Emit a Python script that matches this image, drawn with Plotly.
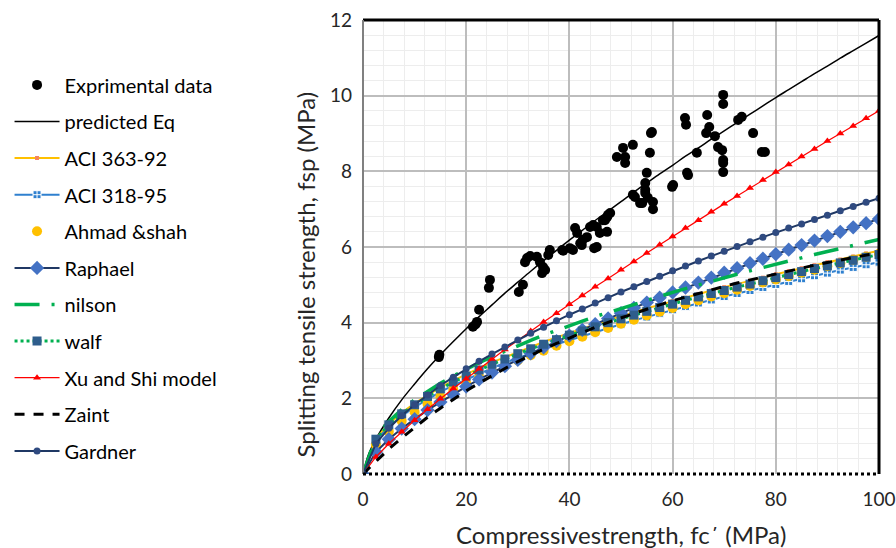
import plotly.graph_objects as go

# ---------------- data ----------------
exp_fc = [14.7, 14.8, 21.3, 22.1, 22.5, 21.8, 24.4, 24.6, 30.2, 31.0,
          31.4, 31.8, 32.4, 33.7, 34.3, 34.9, 35.3, 35.9, 36.2, 34.7,
          38.6, 40.1, 40.7, 41.1, 41.5, 42.1, 42.6, 43.4, 44.0, 44.6,
          45.3, 45.3, 45.9, 46.5, 47.3, 47.5, 47.3, 44.8, 47.9, 46.9,
          49.2, 50.4, 50.8, 52.3, 50.8, 52.3, 53.7, 52.7, 54.1, 54.7,
          54.7, 54.7, 55.0, 55.2, 55.6, 55.8, 56.0, 56.2, 56.2, 59.9,
          60.1, 62.4, 62.6, 62.8, 63.0, 64.7, 66.7, 67.1, 66.5, 68.2,
          68.8, 69.6, 69.8, 69.8, 69.8, 69.8, 69.8, 72.7, 73.4, 75.6,
          77.3, 77.9, 42.4, 38.8]
exp_fsp = [3.09, 3.15, 3.89, 4.02, 4.34, 3.95, 4.92, 5.13, 4.81, 5.00,
           5.60, 5.71, 5.76, 5.74, 5.60, 5.47, 5.39, 5.79, 5.92, 5.31,
           5.92, 5.97, 5.92, 6.50, 6.37, 6.10, 6.19, 6.26, 6.53, 6.58,
           6.53, 6.00, 6.37, 6.71, 6.79, 6.85, 6.40, 5.97, 6.90, 6.71,
           8.38, 8.62, 8.22, 8.70, 8.38, 7.38, 7.16, 7.32, 7.16, 7.69,
           7.43, 7.51, 7.96, 7.30, 8.49, 9.01, 9.04, 7.19, 7.00, 7.59,
           7.64, 9.41, 9.23, 7.96, 7.90, 8.49, 9.49, 9.17, 9.01, 8.93,
           8.64, 8.56, 10.02, 9.78, 8.30, 8.22, 7.98, 9.36, 9.44, 9.01,
           8.51, 8.51, 6.05, 5.90]

pred_fc = [0, 1, 2.5, 5, 7.5, 10, 12.5, 15, 17.5, 20, 22.5, 25, 27.5, 30, 32.5, 35,
           37.5, 40, 42.5, 45, 47.5, 50, 52.5, 55, 57.5, 60, 62.5, 65, 67.5, 70,
           72.5, 75, 77.5, 80, 82.5, 85, 87.5, 90, 92.5, 95, 97.5, 100]
pred_fsp = [0, 0.49, 0.92, 1.48, 1.96, 2.38, 2.78, 3.15, 3.50, 3.84, 4.16, 4.47, 4.78,
            5.07, 5.36, 5.64, 5.91, 6.18, 6.44, 6.70, 6.95, 7.20, 7.45, 7.69, 7.93,
            8.16, 8.40, 8.62, 8.85, 9.07, 9.29, 9.51, 9.73, 9.95, 10.16, 10.37,
            10.58, 10.78, 10.99, 11.19, 11.39, 11.59]

fc = [0, 2.5, 5, 7.5, 10, 12.5, 15, 17.5, 20, 22.5, 25, 27.5, 30, 32.5, 35, 37.5,
      40, 42.5, 45, 47.5, 50, 52.5, 55, 57.5, 60, 62.5, 65, 67.5, 70, 72.5, 75,
      77.5, 80, 82.5, 85, 87.5, 90, 92.5, 95, 97.5, 100]

aci363 = [0, 0.93, 1.32, 1.62, 1.87, 2.09, 2.29, 2.47, 2.64, 2.80, 2.95, 3.09, 3.23,
          3.36, 3.49, 3.61, 3.73, 3.85, 3.96, 4.07, 4.17, 4.28, 4.38, 4.47, 4.57,
          4.66, 4.76, 4.85, 4.94, 5.02, 5.11, 5.19, 5.28, 5.36, 5.44, 5.52, 5.60,
          5.67, 5.75, 5.83, 5.90]
aci318 = [0, 0.89, 1.25, 1.53, 1.77, 1.98, 2.17, 2.34, 2.50, 2.66, 2.80, 2.94, 3.07,
          3.19, 3.31, 3.43, 3.54, 3.65, 3.76, 3.86, 3.96, 4.06, 4.15, 4.25, 4.34,
          4.43, 4.52, 4.60, 4.69, 4.77, 4.85, 4.93, 5.01, 5.09, 5.16, 5.24, 5.31,
          5.39, 5.46, 5.53, 5.60]
ahmad = [0, 0.77, 1.12, 1.40, 1.64, 1.85, 2.05, 2.23, 2.40, 2.56, 2.71, 2.86, 3.00,
         3.14, 3.26, 3.39, 3.51, 3.63, 3.75, 3.86, 3.97, 4.08, 4.19, 4.29, 4.39,
         4.49, 4.59, 4.69, 4.78, 4.87, 4.97, 5.06, 5.14, 5.23, 5.32, 5.40, 5.49,
         5.57, 5.66, 5.74, 5.82]
raphael = [0, 0.58, 0.92, 1.20, 1.45, 1.69, 1.90, 2.11, 2.31, 2.50, 2.68, 2.85, 3.02,
           3.19, 3.35, 3.51, 3.66, 3.81, 3.96, 4.11, 4.25, 4.39, 4.53, 4.66, 4.80,
           4.93, 5.06, 5.19, 5.32, 5.44, 5.57, 5.69, 5.81, 5.93, 6.05, 6.17, 6.29,
           6.40, 6.52, 6.63, 6.74]
nilson = [0, 0.98, 1.39, 1.70, 1.96, 2.19, 2.40, 2.59, 2.77, 2.94, 3.10, 3.25, 3.40,
          3.53, 3.67, 3.80, 3.92, 4.04, 4.16, 4.27, 4.38, 4.49, 4.60, 4.70, 4.80,
          4.90, 5.00, 5.09, 5.19, 5.28, 5.37, 5.46, 5.55, 5.63, 5.72, 5.80, 5.88,
          5.96, 6.04, 6.12, 6.20]
walf = [0, 0.92, 1.30, 1.59, 1.83, 2.05, 2.25, 2.43, 2.59, 2.75, 2.90, 3.04, 3.18,
        3.31, 3.43, 3.55, 3.67, 3.78, 3.89, 4.00, 4.10, 4.20, 4.30, 4.40, 4.49,
        4.59, 4.68, 4.77, 4.85, 4.94, 5.02, 5.11, 5.19, 5.27, 5.35, 5.43, 5.50,
        5.58, 5.65, 5.73, 5.80]
xushi = [0, 0.45, 0.80, 1.12, 1.42, 1.71, 1.99, 2.26, 2.52, 2.78, 3.04, 3.29, 3.53,
         3.78, 4.02, 4.25, 4.49, 4.72, 4.95, 5.17, 5.40, 5.62, 5.84, 6.06, 6.28,
         6.50, 6.71, 6.93, 7.14, 7.35, 7.56, 7.77, 7.98, 8.18, 8.39, 8.59, 8.80,
         9.00, 9.20, 9.40, 9.60]
zaint = [0, 0.34, 0.66, 0.95, 1.23, 1.50, 1.74, 1.98, 2.20, 2.40, 2.60, 2.79, 2.97,
         3.14, 3.30, 3.45, 3.60, 3.74, 3.88, 4.01, 4.13, 4.25, 4.36, 4.47, 4.58,
         4.68, 4.78, 4.87, 4.96, 5.05, 5.13, 5.22, 5.30, 5.37, 5.45, 5.52, 5.59,
         5.65, 5.72, 5.78, 5.85]
gardner = [0, 0.80, 1.21, 1.54, 1.83, 2.09, 2.34, 2.56, 2.78, 2.98, 3.17, 3.36, 3.54,
           3.72, 3.88, 4.05, 4.21, 4.36, 4.52, 4.66, 4.81, 4.95, 5.09, 5.23, 5.37,
           5.50, 5.63, 5.76, 5.89, 6.01, 6.14, 6.26, 6.38, 6.50, 6.61, 6.73, 6.84,
           6.96, 7.07, 7.18, 7.29]

x_ticks = [0, 20, 40, 60, 80, 100]
y_ticks = [0, 2, 4, 6, 8, 10, 12]
x_title = "Compressivestrength, fc΄ (MPa)"
y_title = "Splitting tensile strength, fsp (MPa)"

FONT = "Lato"
TXT = "#262626"

fig = go.Figure()

def add(name, x, y, **kw):
    fig.add_trace(go.Scatter(x=x, y=y, name=name, legendgroup=name, **kw))

add("Exprimental data", exp_fc, exp_fsp, mode="markers",
    marker=dict(symbol="circle", size=10, color="black"))
add("predicted Eq", pred_fc, pred_fsp, mode="lines",
    line=dict(color="black", width=1.5, shape="spline"))
add("ACI 363-92", fc, aci363, mode="lines+markers",
    line=dict(color="#FFC000", width=2),
    marker=dict(symbol="square", size=4, color="#F4845F"))
add("ACI 318-95", fc, aci318, mode="lines+markers",
    line=dict(color="#2F80CF", width=2),
    marker=dict(symbol="square-cross", size=8, color="#2F80CF",
                line=dict(color="white", width=1)))
add("Ahmad &shah", fc, ahmad, mode="markers",
    marker=dict(symbol="circle", size=10, color="#FFC000"))
add("Raphael", fc, raphael, mode="lines+markers",
    line=dict(color="#203864", width=2),
    marker=dict(symbol="diamond", size=11, color="#4472C4"))
add("nilson", fc, nilson, mode="lines",
    line=dict(color="#00B050", width=3.5, dash="25px,12px,3px,12px"))
add("walf", fc, walf, mode="lines+markers",
    line=dict(color="#00B050", width=3, dash="dot"),
    marker=dict(symbol="square", size=9, color="#2E5D8C"))
add("Xu and Shi model", fc, xushi, mode="lines+markers",
    line=dict(color="#FF0000", width=1.2),
    marker=dict(symbol="triangle-up", size=7, color="#FF0000"))
add("Zaint", fc, zaint, mode="lines",
    line=dict(color="black", width=3, dash="10px,9px"))
add("Gardner", fc, gardner, mode="lines+markers",
    line=dict(color="#1F3864", width=2),
    marker=dict(symbol="circle", size=7, color="#2F4A80"))

fig.update_layout(
    width=896, height=548,
    margin=dict(l=363, r=17, t=20, b=74, autoexpand=False),
    paper_bgcolor="white", plot_bgcolor="white",
    font=dict(family=FONT, size=18, color=TXT),
    showlegend=True,
    legend=dict(x=-0.685, y=0.90, xanchor="left", yanchor="top",
                traceorder="grouped", tracegroupgap=7.6,
                font=dict(family=FONT, size=20, color="black"),
                itemwidth=45, bgcolor="rgba(0,0,0,0)"),
    xaxis=dict(range=[0, 100], tickvals=x_ticks, showgrid=True,
               gridcolor="#BDBDBD", gridwidth=1.5, zeroline=False,
               minor=dict(dtick=4, showgrid=True, gridcolor="#EDEDED", gridwidth=1),
               showline=False, ticks="", ticklabelstandoff=12,
               ticklabeloverflow="allow",
               tickfont=dict(family=FONT, size=19, color=TXT)),
    yaxis=dict(range=[0, 12], tickvals=y_ticks, showgrid=True,
               gridcolor="#BDBDBD", gridwidth=1.5, zeroline=False,
               minor=dict(dtick=0.4, showgrid=True, gridcolor="#EDEDED", gridwidth=1),
               showline=False, ticks="", ticklabelstandoff=10,
               ticklabeloverflow="allow",
               tickfont=dict(family=FONT, size=19, color=TXT)),
    annotations=[
        dict(text=x_title, xref="paper", yref="paper", x=0.5, y=-0.1322,
             xanchor="center", yanchor="middle", showarrow=False,
             font=dict(family=FONT, size=24, color=TXT)),
        dict(text=y_title, xref="paper", yref="paper", x=-0.112, y=0.44,
             xanchor="center", yanchor="middle", showarrow=False, textangle=-90,
             font=dict(family=FONT, size=24, color=TXT)),
    ],
    shapes=[
        dict(type="line", xref="paper", yref="paper", x0=0, x1=1, y0=1, y1=1,
             line=dict(color="black", width=3), layer="above"),
        dict(type="line", xref="paper", yref="paper", x0=1, x1=1, y0=0, y1=1,
             line=dict(color="black", width=3), layer="above"),
        dict(type="line", xref="paper", yref="paper", x0=0, x1=0, y0=0, y1=1,
             line=dict(color="#808080", width=2), layer="above"),
        dict(type="line", xref="paper", yref="paper", x0=0, x1=1, y0=0, y1=0,
             line=dict(color="black", width=3, dash="dot"), layer="above"),
    ],
)

# remove the page's default body margin so the figure fills the 896x548 window exactly
fig.write_html("out.html",
               config={"displayModeBar": False},
               post_script="document.body.style.margin='0px';"
                           "document.body.style.overflow='hidden';")
